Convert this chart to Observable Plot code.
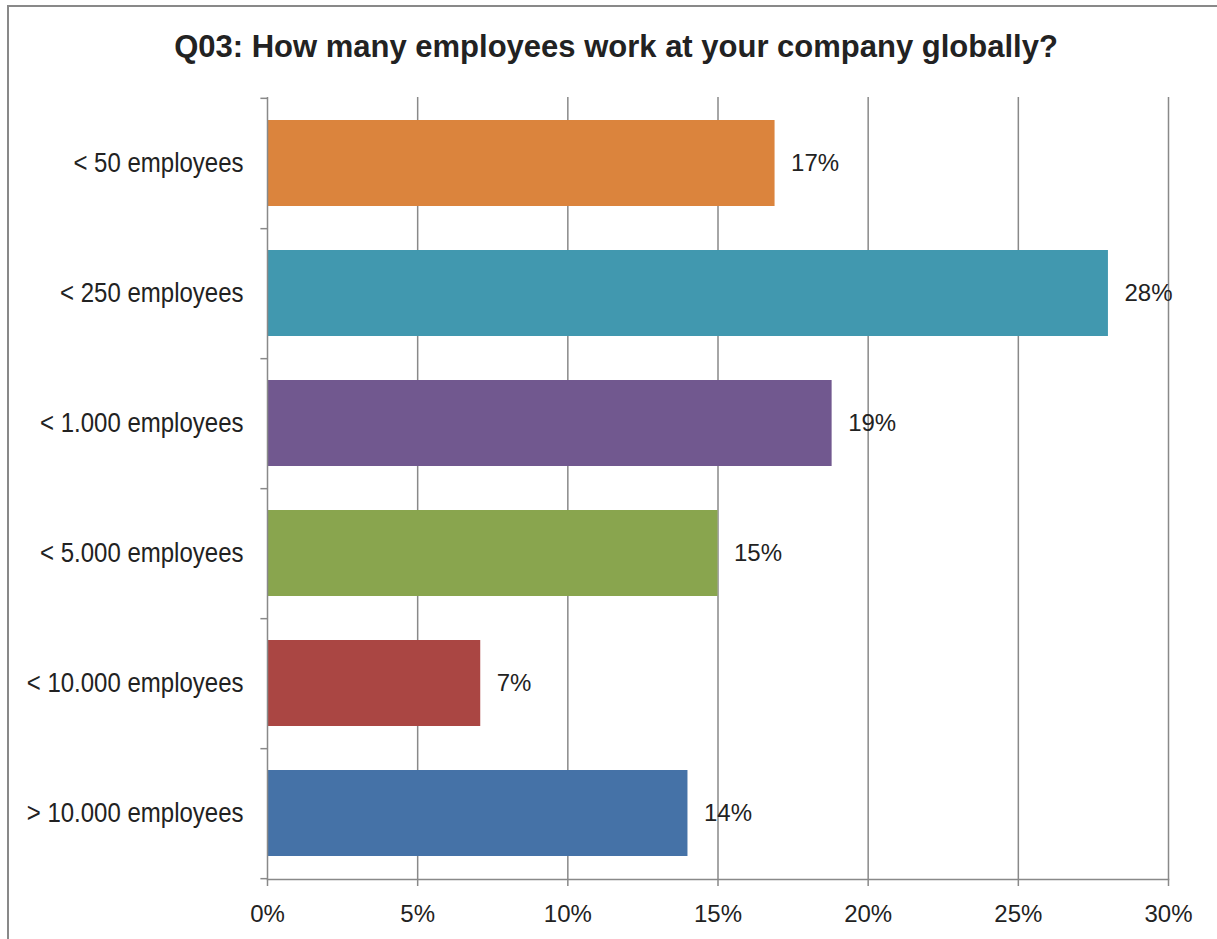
<!DOCTYPE html>
<html><head><meta charset="utf-8">
<script src="https://cdn.jsdelivr.net/npm/d3@7"></script>
<script src="https://cdn.jsdelivr.net/npm/@observablehq/plot@0.6"></script>
<style>
html,body{margin:0;padding:0;background:#fff;}
body{width:1217px;height:939px;overflow:hidden;position:relative;font-family:"Liberation Sans",Arial,sans-serif;}
#frame{position:absolute;left:7px;top:5px;width:1240px;height:980px;border:2px solid #898989;box-sizing:border-box;pointer-events:none;}
#title{height:80px;box-sizing:border-box;padding-top:31px;padding-left:15px;text-align:center;font-size:31px;line-height:31px;font-weight:bold;color:#222;white-space:nowrap;}
#chart svg{display:block;}
</style></head><body>
<div id="title">Q03: How many employees work at your company globally?</div>
<div id="chart"></div>
<div id="frame"></div>
<script>
const categories = ["< 50 employees", "< 250 employees", "< 1.000 employees", "< 5.000 employees", "< 10.000 employees", "> 10.000 employees"];
const values = [16.9, 28.0, 18.8, 15.0, 7.1, 14.0];
const valueLabels = ["17%", "28%", "19%", "15%", "7%", "14%"];
const colors = ["#DB843D", "#4198AF", "#71588F", "#89A54E", "#AA4643", "#4572A7"];
const xTicks = [0, 5, 10, 15, 20, 25, 30];

const W = 1217, H = 859, mT = 17, mB = 60, mL = 267, mR = 49;
const step = (H - mT - mB) / categories.length;
const grid = "#898989";
const data = categories.map((c, i) => ({category: c, value: values[i], label: valueLabels[i], color: colors[i]}));

const chart = Plot.plot({
  width: W, height: H,
  marginTop: mT, marginBottom: mB, marginLeft: mL, marginRight: mR,
  style: {fontFamily: '"Liberation Sans", Arial, sans-serif', fontSize: "24px", color: "#222", background: "#fff"},
  x: {domain: [0, 30], label: null},
  y: {domain: categories, paddingInner: 0.34, paddingOuter: 0.17, label: null},
  color: {type: "identity"},
  marks: [
    Plot.ruleX(xTicks.slice(1), {stroke: grid, strokeWidth: 1.5}),
    Plot.barX(data, {x: "value", y: "category", fill: "color"}),
    Plot.text(data, {x: "value", y: "category", text: "label", textAnchor: "start", dx: 16, fontSize: 24, fill: "#222"}),
    Plot.ruleX([0], {stroke: grid, strokeWidth: 1.5}),
    Plot.frame({anchor: "bottom", stroke: grid, strokeWidth: 1.5}),
    Plot.ruleY(categories, {y: d => d, x1: -0.22, x2: 0, dy: step / 2, stroke: grid, strokeWidth: 1.5}),
    Plot.ruleY(categories.slice(0, 1), {y: d => d, x1: -0.22, x2: 0, dy: -step / 2, stroke: grid, strokeWidth: 1.5}),
    Plot.axisX({ticks: xTicks, tickFormat: d => d + "%", tickSize: 7, tickPadding: 18, stroke: grid, strokeWidth: 1.5, fontSize: 24, label: null}),
    Plot.axisY({tickSize: 0, tickPadding: 24, fontSize: 24, label: null})
  ]
});
document.getElementById("chart").appendChild(chart);

// the reference's category labels are drawn slightly stretched vertically
chart.querySelectorAll('g[aria-label="y-axis tick label"] text').forEach(t => {
  const b = t.getBBox();
  const cy = b.y + b.height / 2;
  const prev = t.getAttribute("transform") || "";
  t.setAttribute("transform", `${prev} translate(0,${cy}) scale(1,1.15) translate(0,${-cy})`);
});
</script>
</body></html>
